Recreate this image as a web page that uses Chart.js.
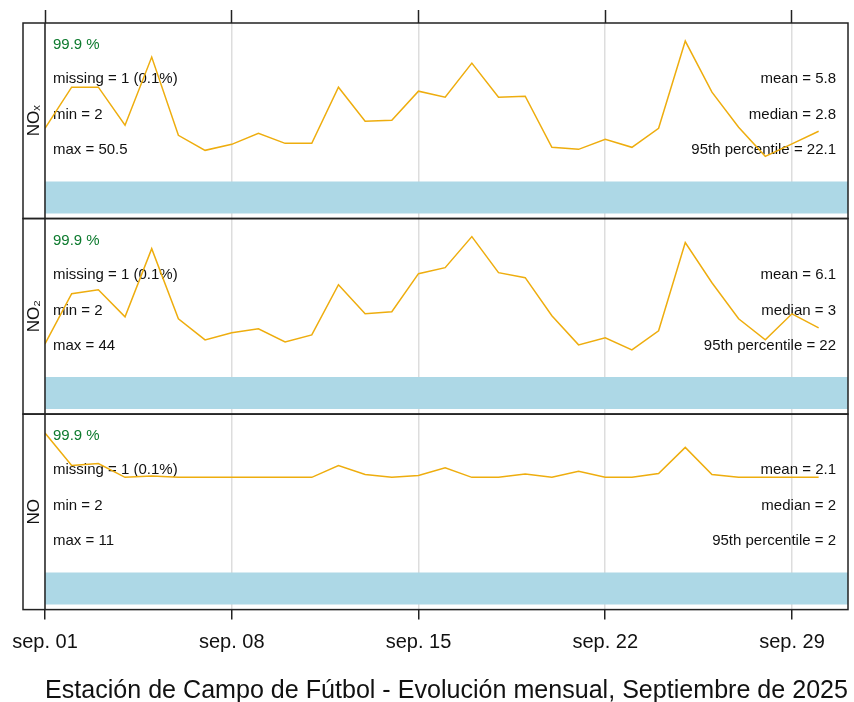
<!DOCTYPE html>
<html>
<head>
<meta charset="utf-8">
<script src="https://cdn.jsdelivr.net/npm/chart.js@4/dist/chart.umd.min.js"></script>
<style>
  html, body { margin: 0; padding: 0; background: #fff; }
  canvas { display: block; }
</style>
</head>
<body>
<canvas id="chart" width="854" height="702"></canvas>
<script>
// days of September 2025 (daily means)
const days = [1, 2, 3, 4, 5, 6, 7, 8, 9, 10, 11, 12, 13, 14, 15,
              16, 17, 18, 19, 20, 21, 22, 23, 24, 25, 26, 27, 28, 29, 30];
const tickDays = [1, 8, 15, 22, 29];
const tickLabels = ['sep. 01', 'sep. 08', 'sep. 15', 'sep. 22', 'sep. 29'];

const noxDaily = [5.3, 9.4, 9.4, 5.6, 12.4, 4.6, 3.1, 3.7, 4.8, 3.8, 3.8, 9.4, 6.0, 6.1, 9.0,
                  8.4, 11.8, 8.4, 8.5, 3.4, 3.2, 4.2, 3.4, 5.3, 14.0, 8.9, 5.4, 2.5, 3.75, 5.0];
const no2Daily = [3.3, 8.3, 8.7, 6.0, 12.8, 5.8, 3.7, 4.4, 4.8, 3.5, 4.2, 9.2, 6.3, 6.5, 10.3,
                  10.9, 14.0, 10.4, 9.9, 6.1, 3.2, 3.9, 2.7, 4.6, 13.4, 9.4, 5.8, 3.7, 6.3, 4.9];
const noDaily = [2.93, 2.25, 2.29, 2.0, 2.03, 2.0, 2.0, 2.0, 2.0, 2.0, 2.0, 2.25, 2.06, 2.0, 2.04,
                 2.2, 2.0, 2.0, 2.07, 2.0, 2.13, 2.0, 2.0, 2.08, 2.63, 2.06, 2.0, 2.0, 2.0, 2.0];

const panelNames = ['NOₓ', 'NO₂', 'NO'];
const panelMin = [-3.7, -3.7, -0.78];
const panelMax = [15.8, 15.8, 3.33];

const capturePct = [99.9, 99.9, 99.9];
const missingCount = [1, 1, 1];
const missingPct = [0.1, 0.1, 0.1];
const statMin = [2, 2, 2];
const statMax = [50.5, 44, 11];
const statMean = [5.8, 6.1, 2.1];
const statMedian = [2.8, 3, 2];
const statP95 = [22.1, 22, 2];

const xMin = 1;
const xMax = 31.1;
const FONT = "'Liberation Sans', Arial, sans-serif";
const panelIds = ['yNOx', 'yNO2', 'yNO'];
const series = [noxDaily, no2Daily, noDaily];

const datasets = [];
panelIds.forEach((id, i) => {
    const span = panelMax[i] - panelMin[i];
    const barTop = panelMin[i] + span * (37 / 195);
    const barBottom = panelMin[i] + span * (5 / 195);
    datasets.push({
        data: [{ x: xMin, y: barTop }, { x: xMax, y: barTop }],
        yAxisID: id,
        borderWidth: 0,
        pointRadius: 0,
        backgroundColor: '#ADD8E6',
        fill: { value: barBottom },
    });
    datasets.push({
        data: days.map((d, j) => ({ x: d, y: series[i][j] })),
        yAxisID: id,
        borderColor: '#EEAD0E',
        borderWidth: 1.5,
        pointRadius: 0,
        tension: 0,
        fill: false,
    });
});

const scales = {
    x: {
        type: 'linear',
        position: 'bottom',
        min: xMin,
        max: xMax,
        afterBuildTicks: (s) => { s.ticks = tickDays.map((v) => ({ value: v })); },
        ticks: {
            autoSkip: false,
            maxRotation: 0,
            padding: 11,
            color: '#111',
            font: { family: FONT, size: 20 },
            callback: (v, idx) => tickLabels[idx],
        },
        grid: { color: '#dddddd', lineWidth: 1.5, tickLength: 10, tickColor: '#222', tickWidth: 1.5 },
        border: { display: false },
        title: {
            display: true,
            text: 'Estación de Campo de Fútbol - Evolución mensual, Septiembre de 2025',
            color: '#111',
            font: { family: FONT, size: 25.4, lineHeight: 1.0 },
            padding: { top: 13, bottom: -2 },
        },
    },
    x2: {
        type: 'linear',
        position: 'top',
        min: xMin,
        max: xMax,
        afterBuildTicks: (s) => { s.ticks = tickDays.map((v) => ({ value: v })); },
        ticks: { display: false },
        grid: { drawOnChartArea: false, tickLength: 13, tickColor: '#222', tickWidth: 1.5 },
        border: { display: false },
    },
};
// stacked left axes are laid out last-declared on top, so declare bottom panel first
[2, 1, 0].forEach((i) => {
    scales[panelIds[i]] = {
        type: 'linear',
        position: 'left',
        stack: 'panels',
        stackWeight: 1,
        min: panelMin[i],
        max: panelMax[i],
        ticks: { display: false },
        grid: { display: false },
        border: { display: false },
        title: {
            display: true,
            text: panelNames[i],
            color: '#111',
            font: { family: FONT, size: 17 },
            padding: { top: 1, bottom: 0 },
        },
        afterFit: (s) => { s.width = 22; },
    };
});

// panel statistics written inside each panel, under the line
const statsText = {
    id: 'statsText',
    beforeDatasetsDraw(chart) {
        const { ctx, chartArea } = chart;
        ctx.save();
        ctx.font = `15px ${FONT}`;
        ctx.textBaseline = 'middle';
        panelIds.forEach((id, i) => {
            const top = chart.scales[id].top;
            const lx = chartArea.left + 8;
            const rx = chartArea.right - 12;
            ctx.textAlign = 'left';
            ctx.fillStyle = '#0d7a2e';
            ctx.fillText(`${capturePct[i]} %`, lx, top + 22);
            ctx.fillStyle = '#111';
            ctx.fillText(`missing = ${missingCount[i]} (${missingPct[i]}%)`, lx, top + 56);
            ctx.fillText(`min = ${statMin[i]}`, lx, top + 92);
            ctx.fillText(`max = ${statMax[i]}`, lx, top + 127);
            ctx.textAlign = 'right';
            ctx.fillText(`mean = ${statMean[i]}`, rx, top + 56);
            ctx.fillText(`median = ${statMedian[i]}`, rx, top + 92);
            ctx.fillText(`95th percentile = ${statP95[i]}`, rx, top + 127);
        });
        ctx.restore();
    },
};

// lattice-like panel and strip frames
const panelFrame = {
    id: 'panelFrame',
    afterDraw(chart) {
        const { ctx, chartArea } = chart;
        const stripLeft = chart.scales[panelIds[0]].left;
        ctx.save();
        ctx.strokeStyle = '#222';
        ctx.lineWidth = 1.5;
        panelIds.forEach((id) => {
            const s = chart.scales[id];
            ctx.strokeRect(stripLeft, s.top, chartArea.right - stripLeft, s.bottom - s.top);
        });
        ctx.beginPath();
        ctx.moveTo(chartArea.left, chartArea.top);
        ctx.lineTo(chartArea.left, chartArea.bottom);
        ctx.stroke();
        ctx.restore();
    },
};

new Chart(document.getElementById('chart'), {
    type: 'line',
    data: { datasets },
    options: {
        responsive: false,
        animation: false,
        devicePixelRatio: 1,
        layout: { padding: { left: 23, right: 6, top: 10, bottom: 0 } },
        plugins: { legend: { display: false }, tooltip: { enabled: false } },
        scales,
    },
    plugins: [statsText, panelFrame],
});
</script>
</body>
</html>
